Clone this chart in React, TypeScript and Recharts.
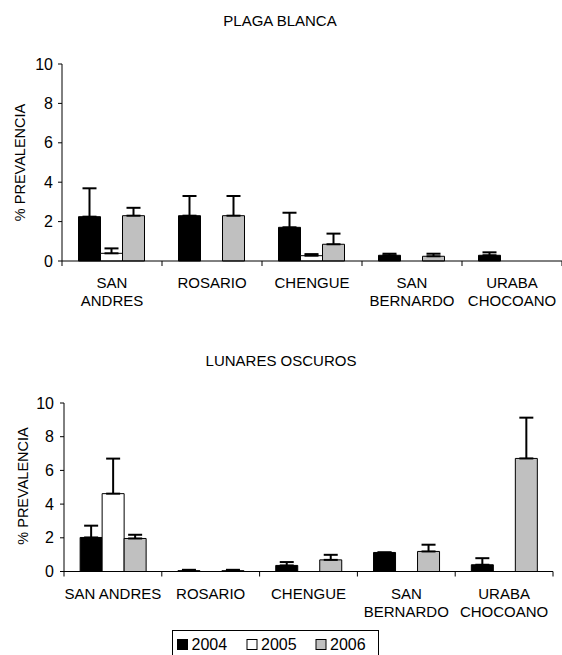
import React from 'react';
import { BarChart, Bar, XAxis, YAxis, ErrorBar } from 'recharts';

// sites and axis labels
const SITES = ['SAN ANDRES', 'ROSARIO', 'CHENGUE', 'SAN BERNARDO', 'URABA CHOCOANO'];
const TOP_LABELS = ['SAN\nANDRES', 'ROSARIO', 'CHENGUE', 'SAN\nBERNARDO', 'URABA\nCHOCOANO'];
const BOTTOM_LABELS = ['SAN ANDRES', 'ROSARIO', 'CHENGUE', 'SAN\nBERNARDO', 'URABA\nCHOCOANO'];
const Y_TICKS = [0, 2, 4, 6, 8, 10];

const YEARS = ['2004', '2005', '2006'];
const YEAR_FILLS = ['#000000', '#ffffff', '#c0c0c0'];

// PLAGA BLANCA
const PLAGA_2004 = [2.25, 2.3, 1.71, 0.29, 0.29];
const PLAGA_2005 = [0.39, null, 0.27, null, null];
const PLAGA_2006 = [2.3, 2.3, 0.85, 0.24, 0];
const PLAGA_ERR_2004 = [1.44, 1.0, 0.74, 0.08, 0.15];
const PLAGA_ERR_2005 = [0.25, null, 0.08, null, null];
const PLAGA_ERR_2006 = [0.4, 1.0, 0.54, 0.13, 0.04];

// LUNARES OSCUROS
const LUNARES_2004 = [2.02, 0.05, 0.36, 1.13, 0.4];
const LUNARES_2005 = [4.62, null, 0, null, null];
const LUNARES_2006 = [1.96, 0.05, 0.69, 1.19, 6.71];
const LUNARES_ERR_2004 = [0.7, 0.05, 0.2, 0, 0.39];
const LUNARES_ERR_2005 = [2.08, null, 0, null, null];
const LUNARES_ERR_2006 = [0.22, 0.05, 0.3, 0.4, 2.42];

const FONT = "Arial, 'Liberation Sans', sans-serif";

type Num = number | null;

const err = (e: Num) => (e == null ? null : [0, e]);

const buildRows = (v: Num[][], e: Num[][]) =>
  SITES.map((site, i) => ({
    site,
    v2004: v[0][i],
    v2005: v[1][i],
    v2006: v[2][i],
    e2004: err(e[0][i]),
    e2005: err(e[1][i]),
    e2006: err(e[2][i]),
  }));

const plagaRows = buildRows(
  [PLAGA_2004, PLAGA_2005, PLAGA_2006],
  [PLAGA_ERR_2004, PLAGA_ERR_2005, PLAGA_ERR_2006],
);
const lunaresRows = buildRows(
  [LUNARES_2004, LUNARES_2005, LUNARES_2006],
  [LUNARES_ERR_2004, LUNARES_ERR_2005, LUNARES_ERR_2006],
);

const makeTick = (labels: string[], band: number) => (props: any) => {
  const { x, y, payload, index } = props;
  const half = payload && payload.offset ? payload.offset : band / 2;
  const lines = labels[index].split('\n');
  const last = index === labels.length - 1;
  return (
    <g>
      <line x1={x - half} x2={x - half} y1={y} y2={y + 5} stroke="#000" />
      {last && <line x1={x + half} x2={x + half} y1={y} y2={y + 5} stroke="#000" />}
      <text x={x} y={y + 27} textAnchor="middle" fontSize={15} fontFamily={FONT} fill="#000">
        {lines.map((l, i) => (
          <tspan key={i} x={x} dy={i === 0 ? 0 : 18}>
            {l}
          </tspan>
        ))}
      </text>
    </g>
  );
};

const Series = () =>
  YEARS.map((yr, i) => (
    <Bar
      key={yr}
      dataKey={`v${yr}`}
      fill={YEAR_FILLS[i]}
      stroke="#000"
      strokeWidth={1}
      isAnimationActive={false}
    >
      <ErrorBar dataKey={`e${yr}`} width={7} stroke="#000" strokeWidth={2} direction="y" />
    </Bar>
  ));

const App = () => {
  return (
    <div style={{ position: 'absolute', left: 0, top: 0, width: 562, height: 655, background: '#fff' }}>
      <div style={{ position: 'absolute', left: 0, top: 0 }}>
        <BarChart
          width={562}
          height={320}
          data={plagaRows}
          margin={{ top: 64, right: 0, bottom: 0, left: 0 }}
          barCategoryGap="16.5%"
          barGap={0}
        >
          <XAxis
            dataKey="site"
            height={59}
            tickLine={false}
            tickSize={0}
            tickMargin={0}
            axisLine={{ stroke: '#000' }}
            interval={0}
            tick={makeTick(TOP_LABELS, 100)}
          />
          <YAxis
            width={62}
            domain={[0, 10]}
            ticks={Y_TICKS}
            tickSize={4}
            tickMargin={5}
            axisLine={{ stroke: '#000' }}
            tickLine={{ stroke: '#000' }}
            tick={{ fill: '#000', fontSize: 16, fontFamily: FONT }}
          />
          {Series()}
        </BarChart>
      </div>
      <div style={{ position: 'absolute', left: 0, top: 330 }}>
        <BarChart
          width={562}
          height={325}
          data={lunaresRows}
          margin={{ top: 73, right: 9, bottom: 0, left: 0 }}
          barCategoryGap="16.5%"
          barGap={0}
        >
          <XAxis
            dataKey="site"
            height={83.5}
            tickLine={false}
            tickSize={0}
            tickMargin={0}
            axisLine={{ stroke: '#000' }}
            interval={0}
            tick={makeTick(BOTTOM_LABELS, 97.8)}
          />
          <YAxis
            width={64}
            domain={[0, 10]}
            ticks={Y_TICKS}
            tickSize={4}
            tickMargin={6}
            axisLine={{ stroke: '#000' }}
            tickLine={{ stroke: '#000' }}
            tick={{ fill: '#000', fontSize: 16, fontFamily: FONT }}
          />
          {Series()}
        </BarChart>
      </div>
      <svg
        width={562}
        height={655}
        style={{ position: 'absolute', left: 0, top: 0, pointerEvents: 'none' }}
        fontFamily={FONT}
      >
        <text x={280} y={26} textAnchor="middle" fontSize={15} fill="#000">PLAGA BLANCA</text>
        <text x={281} y={366} textAnchor="middle" fontSize={15} fill="#000">LUNARES OSCUROS</text>
        <text x={25} y={162.5} transform="rotate(-90 25 162.5)" textAnchor="middle" fontSize={14.5} fill="#000">
          % PREVALENCIA
        </text>
        <text x={28.3} y={486} transform="rotate(-90 28.3 486)" textAnchor="middle" fontSize={14.5} fill="#000">
          % PREVALENCIA
        </text>
        <rect x={172.5} y={630.5} width={206} height={30} fill="#fff" stroke="#000" />
        {YEARS.map((yr, i) => {
          const sx = [177.5, 247, 316][i];
          return (
            <g key={yr}>
              <rect x={sx} y={639.5} width={10} height={10} fill={YEAR_FILLS[i]} stroke="#000" />
              <text x={sx + 14} y={650} fontSize={16} fill="#000">{yr}</text>
            </g>
          );
        })}
      </svg>
    </div>
  );
};

export default App;
